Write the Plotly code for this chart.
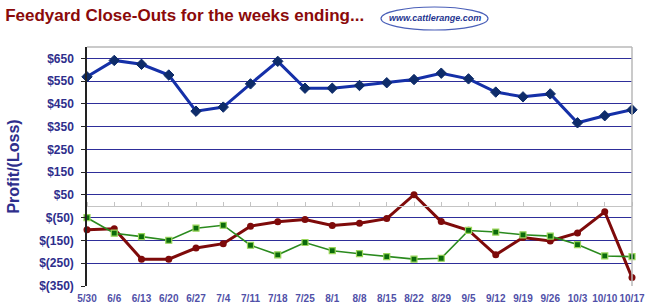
import plotly.graph_objects as go

weeks = ["5/30", "6/6", "6/13", "6/20", "6/27", "7/4", "7/11", "7/18", "7/25", "8/1",
         "8/8", "8/15", "8/22", "8/29", "9/5", "9/12", "9/19", "9/26", "10/3", "10/10", "10/17"]
blue_vals = [569, 641, 624, 577, 418, 436, 538, 637, 519, 519,
             531, 543, 557, 585, 560, 502, 481, 494, 367, 398, 424]
red_vals = [-103, -99, -232, -232, -183, -164, -87, -68, -58, -84,
            -74, -54, 51, -67, -105, -213, -137, -152, -117, -24, -313]
green_vals = [-50, -118, -133, -149, -96, -83, -171, -213, -159, -195,
              -208, -221, -232, -228, -106, -113, -125, -131, -168, -218, -221]

y_ticks = [650, 550, 450, 350, 250, 150, 50, -50, -150, -250, -350]
y_tick_text = ["$650", "$550", "$450", "$350", "$250", "$150", "$50",
               "$(50)", "$(150)", "$(250)", "$(350)"]
grid_vals = [650, 550, 450, 350, 250, 150, 50, -50, -150, -250]
y_range = [-350, 700]

fig = go.Figure()
fig.add_trace(go.Scatter(
    x=weeks, y=blue_vals, mode="lines+markers", cliponaxis=False,
    line=dict(color="#1530A8", width=3),
    marker=dict(symbol="diamond", size=8, color="#0E2C6A", line=dict(color="#0E2C6A", width=1)),
    showlegend=False))
fig.add_trace(go.Scatter(
    x=weeks, y=red_vals, mode="lines+markers", cliponaxis=False,
    line=dict(color="#7E0A0A", width=3),
    marker=dict(symbol="circle", size=7, color="#7E0A0A"),
    showlegend=False))
fig.add_trace(go.Scatter(
    x=weeks, y=green_vals, mode="lines+markers", cliponaxis=False,
    line=dict(color="#2A8A1E", width=1.6),
    marker=dict(symbol="square", size=6, color="#0B6B0B", line=dict(color="#9AD65A", width=1.2)),
    showlegend=False))

# invisible trace for overlay axes
fig.add_trace(go.Scatter(x=weeks, y=[None] * len(weeks), xaxis="x2", yaxis="y2",
                         showlegend=False, hoverinfo="skip"))

zero_pos = (0 - y_range[0]) / (y_range[1] - y_range[0])

fig.update_layout(
    width=645, height=306,
    margin=dict(l=87, r=13, t=47, b=20),
    paper_bgcolor="white", plot_bgcolor="white",
    title=dict(text="<b>Feedyard Close-Outs for the weeks ending...</b>",
               x=0.008, xanchor="left", y=0.952, yanchor="middle",
               font=dict(family="Liberation Sans, Arial", size=17, color="#8B0A0A")),
    xaxis=dict(type="category", range=[0, len(weeks) - 1], showgrid=False,
               zeroline=False, showline=False, ticks="", ticklabelstandoff=5,
               automargin=False,
               tickfont=dict(family="Liberation Sans, Arial", size=10, color="#5050A8",
                             weight="bold"),
               tickangle=0),
    yaxis=dict(range=y_range, tickvals=y_ticks, ticktext=y_tick_text,
               showgrid=False, zeroline=False,
               showline=True, linecolor="#222222", linewidth=1.5,
               ticks="outside", ticklen=4, tickcolor="#222222", ticklabelstandoff=5,
               tickfont=dict(family="Liberation Sans, Arial", size=12, color="#2E2E8C",
                             weight="bold"),
               title=dict(text="<b>Profit/(Loss)</b>", standoff=16,
                          font=dict(family="Liberation Sans, Arial", size=16, color="#2E2E8C"))),
    xaxis2=dict(type="category", range=[0, len(weeks) - 1], overlaying="x",
                anchor="free", position=zero_pos, side="top",
                showline=True, linecolor="#C4C4C4", linewidth=1,
                ticks="outside", ticklen=4, tickcolor="#C4C4C4",
                showticklabels=False, showgrid=False, zeroline=False),
    yaxis2=dict(range=y_range, overlaying="y", tickvals=grid_vals,
                showgrid=True, gridcolor="#2E2E9A", gridwidth=1.3,
                showticklabels=False, zeroline=False, showline=False, ticks=""),
    shapes=[
        dict(type="line", xref="paper", yref="paper", x0=0, x1=1, y0=1, y1=1,
             line=dict(color="#B8B8B8", width=1.5)),
        dict(type="line", xref="paper", yref="paper", x0=1, x1=1, y0=0, y1=1,
             line=dict(color="#B8B8B8", width=1.5)),
        dict(type="circle", xref="paper", yref="paper",
             x0=(381 - 87) / 545, x1=(488 - 87) / 545,
             y0=(286 - 30) / 239, y1=(286 - 7) / 239,
             line=dict(color="#4A5FB8", width=1.2)),
    ],
    annotations=[
        dict(text="<b><i>www.cattlerange.com</i></b>", xref="paper", yref="paper",
             x=(434.5 - 87) / 545, y=(286 - 18.5) / 239, showarrow=False,
             xanchor="center", yanchor="middle",
             font=dict(family="Liberation Sans, Arial", size=9, color="#1F3590")),
    ],
)

fig.write_html("out.html")
